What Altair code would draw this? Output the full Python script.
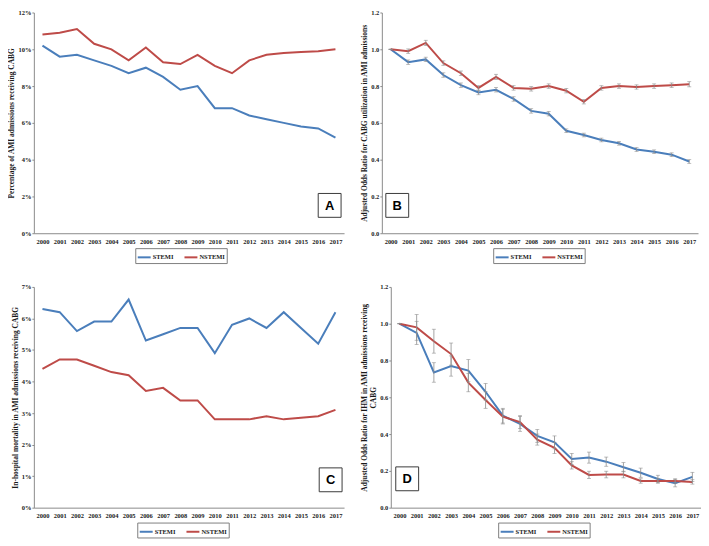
import altair as alt
import pandas as pd

years = ["2000", "2001", "2002", "2003", "2004", "2005", "2006", "2007", "2008",
         "2009", "2010", "2011", "2012", "2013", "2014", "2015", "2016", "2017"]
series = ["STEMI", "NSTEMI"]
colors = ["#4A7EBB", "#BE4B48"]

# Panel A: % of AMI admissions receiving CABG
a_stemi = [10.2, 9.6, 9.7, 9.4, 9.1, 8.7, 9.0, 8.5, 7.8, 8.0, 6.8, 6.8, 6.4, 6.2, 6.0, 5.8, 5.7, 5.2]
a_nstemi = [10.8, 10.9, 11.1, 10.3, 10.0, 9.4, 10.1, 9.3, 9.2, 9.7, 9.1, 8.7, 9.4, 9.7, 9.8, 9.85, 9.9, 10.0]

# Panel B: adjusted OR for CABG utilization
b_stemi = [1.0, 0.93, 0.945, 0.86, 0.805, 0.765, 0.78, 0.73, 0.665, 0.65, 0.557, 0.534, 0.507, 0.489, 0.455, 0.443, 0.427, 0.39]
b_nstemi = [1.0, 0.99, 1.035, 0.925, 0.87, 0.79, 0.85, 0.79, 0.785, 0.80, 0.775, 0.715, 0.79, 0.80, 0.795, 0.80, 0.805, 0.81]
b_stemi_err = [0.0, 0.012, 0.012, 0.012, 0.012, 0.012, 0.012, 0.012, 0.012, 0.012, 0.01, 0.01, 0.01, 0.01, 0.01, 0.01, 0.01, 0.01]
b_nstemi_err = [0.0, 0.012, 0.014, 0.012, 0.012, 0.012, 0.014, 0.012, 0.012, 0.012, 0.012, 0.012, 0.012, 0.012, 0.012, 0.012, 0.012, 0.014]

# Panel C: in-hospital mortality (%)
c_stemi = [6.3, 6.2, 5.6, 5.9, 5.9, 6.6, 5.3, 5.5, 5.7, 5.7, 4.9, 5.8, 6.0, 5.7, 6.2, 5.7, 5.2, 6.2]
c_nstemi = [4.4, 4.7, 4.7, 4.5, 4.3, 4.2, 3.7, 3.8, 3.4, 3.4, 2.8, 2.8, 2.8, 2.9, 2.8, 2.85, 2.9, 3.1]

# Panel D: adjusted OR for IHM
d_stemi = [1.0, 0.95, 0.735, 0.77, 0.745, 0.63, 0.50, 0.455, 0.39, 0.355, 0.265, 0.272, 0.25, 0.22, 0.19, 0.156, 0.133, 0.167]
d_nstemi = [1.0, 0.98, 0.905, 0.835, 0.68, 0.585, 0.495, 0.465, 0.37, 0.325, 0.23, 0.178, 0.18, 0.18, 0.145, 0.145, 0.145, 0.14]
d_stemi_err = [0.0, 0.063, 0.053, 0.055, 0.06, 0.045, 0.04, 0.04, 0.035, 0.035, 0.03, 0.03, 0.025, 0.025, 0.025, 0.02, 0.02, 0.025]
d_nstemi_err = [0.0, 0.07, 0.065, 0.06, 0.05, 0.045, 0.04, 0.035, 0.03, 0.03, 0.02, 0.02, 0.018, 0.018, 0.012, 0.012, 0.012, 0.012]

SERIF = "Liberation Serif"
AX = "#8a8a8a"
ERR = "#8c8c8c"
H = 222


def long_df(s_vals, n_vals, s_err=None, n_err=None):
    rows = []
    for i, y in enumerate(years):
        for name, vals, errs in (("STEMI", s_vals, s_err), ("NSTEMI", n_vals, n_err)):
            e = errs[i] if errs else 0.0
            rows.append({"year": y, "series": name, "value": vals[i],
                         "lo": vals[i] - e, "hi": vals[i] + e})
    return pd.DataFrame(rows)


def panel(df, ytitle, ydomain, yvalues, label_expr, letter, box_x, box_y,
          legend_x, legend_y, width, height=H, errors=False):
    x_enc = alt.X("year:O", sort=years,
                  scale=alt.Scale(type="point", padding=0.5),
                  axis=alt.Axis(title=None, labelAngle=0, labelFont=SERIF,
                                labelFontWeight="bold", labelFontSize=6.5,
                                labelColor="#1a1a1a", domainColor=AX,
                                ticks=False, labelPadding=5, grid=False,
                                labelOverlap=False))
    y_axis = alt.Axis(title=ytitle, values=yvalues, labelExpr=label_expr,
                      grid=False, domainColor=AX, tickColor=AX, tickSize=2,
                      labelFont=SERIF, labelFontWeight="bold", labelFontSize=6.5,
                      labelColor="#1a1a1a", labelPadding=1, labelOverlap=False,
                      titleFont=SERIF, titleFontWeight="bold", titleFontSize=7.5,
                      titleColor="#1a1a1a", titlePadding=2)
    y_scale = alt.Scale(domain=ydomain, nice=False, zero=True)

    def Y(field):
        return alt.Y(field, type="quantitative", scale=y_scale, axis=y_axis)

    base = alt.Chart(df)
    lines = base.mark_line(strokeWidth=2).encode(
        x=x_enc,
        y=Y("value"),
        color=alt.Color("series:N",
                        scale=alt.Scale(domain=series, range=colors),
                        legend=alt.Legend(orient="none", legendX=legend_x, legendY=legend_y,
                                          direction="horizontal", title=None,
                                          symbolType="stroke", symbolStrokeWidth=2,
                                          symbolSize=169, labelFont=SERIF,
                                          labelFontWeight="bold", labelFontSize=6.5,
                                          labelColor="#1a1a1a", strokeColor="#7f7f7f",
                                          fillColor="white", padding=1.5,
                                          columnPadding=7, labelOffset=1)),
        order=alt.Order("year:O"),
    )
    layers = [lines]
    if errors:
        rules = base.mark_rule(color=ERR, strokeWidth=0.8).encode(
            x=x_enc, y=Y("lo"), y2="hi:Q")
        cap_lo = base.mark_tick(color=ERR, size=4, thickness=0.8, orient="horizontal").encode(
            x=x_enc, y=Y("lo"))
        cap_hi = base.mark_tick(color=ERR, size=4, thickness=0.8, orient="horizontal").encode(
            x=x_enc, y=Y("hi"))
        layers += [rules, cap_lo, cap_hi]
    lab = pd.DataFrame({"label": [letter]})
    box = alt.Chart(lab).mark_rect(fill="white", stroke="#3a3a3a", strokeWidth=1).encode(
        x=alt.value(box_x), x2=alt.value(box_x + 23),
        y=alt.value(box_y), y2=alt.value(box_y + 24))
    txt = alt.Chart(lab).mark_text(font="Liberation Sans", fontWeight="bold", fontSize=13,
                                   color="black", align="center", baseline="middle").encode(
        x=alt.value(box_x + 11.5), y=alt.value(box_y + 12.5), text="label:N")
    layers += [box, txt]
    return alt.layer(*layers).properties(width=width, height=height)


dfA = long_df(a_stemi, a_nstemi)
dfB = long_df(b_stemi, b_nstemi, b_stemi_err, b_nstemi_err)
dfC = long_df(c_stemi, c_nstemi)
dfD = long_df(d_stemi, d_nstemi, d_stemi_err, d_nstemi_err)

pct = "datum.value + '%'"
dec = "format(datum.value, '.1f')"
LY = H + 15
BY = H - 40

A = panel(dfA, "Percentage of AMI admissions receiving CABG", [0, 12],
          [0, 2, 4, 6, 8, 10, 12], pct, "A", 286, BY, 102, LY, 312)
B = panel(dfB, "Adjusted Odds Ratio for CABG utilization in AMI admissions", [0, 1.2],
          [0, 0.2, 0.4, 0.6, 0.8, 1.0, 1.2], dec, "B", 4, BY, 112, LY, 318, errors=True)
C = panel(dfC, "In-hospital mortality in AMI admissions receiving CABG", [0, 7],
          [0, 1, 2, 3, 4, 5, 6, 7], pct, "C", 287, BY, 104, LY, 312)
D = panel(dfD, ["Adjusted Odds Ratio for IHM in AMI admissions receiving", "CABG"], [0, 1.2],
          [0, 0.2, 0.4, 0.6, 0.8, 1.0, 1.2], dec, "D", 5, BY - 1, 108, LY, 312, errors=True)

top = alt.hconcat(A, B, spacing=16).resolve_scale(color="independent")
bottom = alt.hconcat(C, D, spacing=16).resolve_scale(color="independent")
chart = alt.vconcat(top, bottom, spacing=20).resolve_scale(color="independent").properties(
    padding=0, background="white"
).configure_view(stroke=None)

chart.save("out.html", embed_options={"renderer": "svg", "actions": False})
